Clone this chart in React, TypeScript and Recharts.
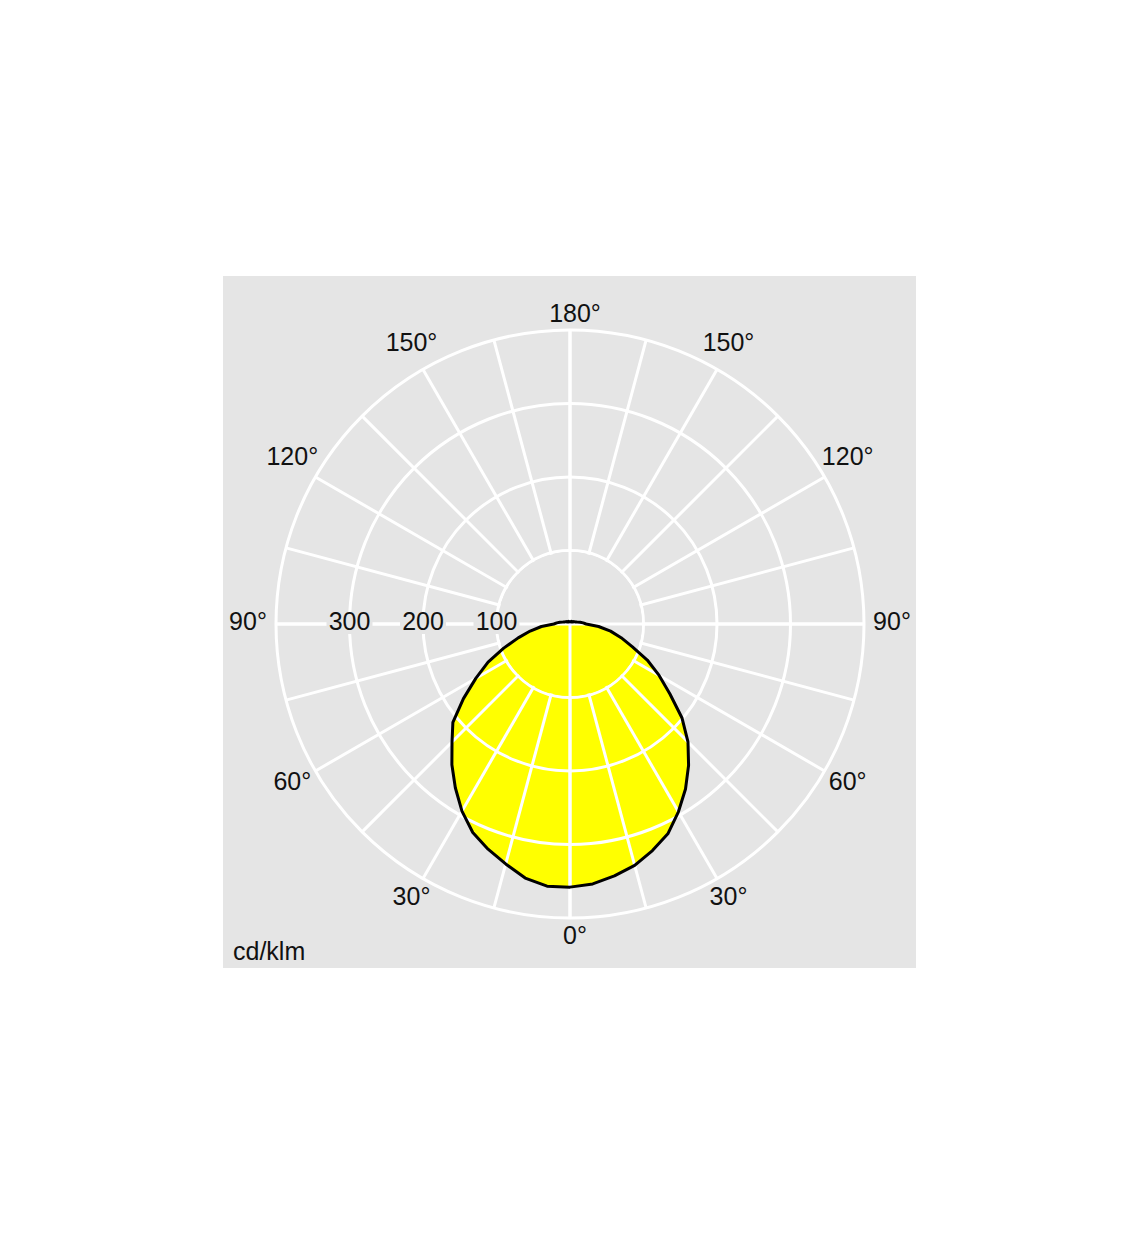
import React from 'react';
import { RadarChart, Radar, PolarGrid, PolarAngleAxis, PolarRadiusAxis } from 'recharts';

// gamma angles of the measured half-planes, 0° = straight down
const gammaDeg = [
  0, 5, 10, 15, 20, 25, 30, 35, 40, 45, 50, 55, 60, 65, 70, 75, 80, 85, 90,
  95, 100, 105, 110, 115, 120, 125, 130, 135, 140, 145, 150, 155, 160, 165, 170, 175, 180,
];

// cd/klm, right side of the diagram
const rightPlane = [
  358, 355, 348, 340, 328, 315, 295, 274, 251, 227, 199, 166, 140, 116, 90, 72, 56, 39, 22,
  18, 14, 10, 8, 7, 6, 5, 5, 4, 4, 4, 4, 4, 3, 3, 3, 3, 3,
];

// cd/klm, left side of the diagram
const leftPlane = [
  358, 358, 351, 338, 326, 313, 294, 272, 250, 227, 208, 177, 148, 123, 96, 73, 55, 39, 22,
  18, 14, 10, 8, 7, 6, 5, 5, 4, 4, 4, 4, 4, 3, 3, 3, 3, 3,
];

const gridAngles = [0, 15, 30, 45, 60, 75, 90, 105, 120, 135, 150, 165, 180, 195, 210, 225, 240, 255, 270, 285, 300, 315, 330, 345];
const axisAngles = [0, 90, 180, 270];
const radiusTicks = [0, 100, 200, 300, 400];

const BG = '#e5e5e5';
const FONT = '"Liberation Sans", Arial, sans-serif';
const W = 693;
const H = 692;
const CX = 347;
const CY = 348;
const OUTER_R = 294;
const HOLE_R = (OUTER_R * radiusTicks[1]) / radiusTicks[radiusTicks.length - 1];

// a runs counter-clockwise from the bottom: 0..180 right side, 180..360 left side
const data = [
  ...gammaDeg.map((g, i) => ({ a: g, v: rightPlane[i] })),
  ...gammaDeg
    .slice(1, -1)
    .reverse()
    .map((g) => ({ a: 360 - g, v: leftPlane[gammaDeg.indexOf(g)] })),
];

const AngleTick = (props: any) => {
  const { x, y, payload } = props;
  const val = payload.value;
  if (val % 30 !== 0) return null;
  const num = String(val <= 180 ? val : 360 - val);
  const rad = (-payload.coordinate * Math.PI) / 180;
  const ux = Math.cos(rad);
  const uy = Math.sin(rad);
  const side = Math.abs(ux) > 0.01;
  const shift = (side ? 9 : 8) + Math.abs(ux) * 10;
  // the number is centred, the degree sign hangs off to the right
  const halfNum = (num.length * 0.556 * 25) / 2;
  const tx = x + ux * shift - halfNum + (side ? -5 : 0);
  const lift = side ? 3 + 10 * Math.max(0, -uy) * Math.abs(ux) : 0;
  const ty = y + uy * shift - lift;
  return (
    <text
      x={tx}
      y={ty}
      textAnchor="start"
      dominantBaseline="central"
      fill="#111"
      fontSize={25}
      fontFamily={FONT}
    >
      {num}°
    </text>
  );
};

const RadiusTick = (props: any) => {
  const { x, y, payload } = props;
  const val = payload.value;
  if (val <= 0 || val >= 400) return null;
  return (
    <g>
      <rect x={x - 23} y={y - 12} width={46} height={22} fill={BG} />
      <text
        x={x}
        y={y - 3}
        textAnchor="middle"
        dominantBaseline="central"
        fill="#111"
        fontSize={25}
        fontFamily={FONT}
      >
        {val}
      </text>
    </g>
  );
};

export default function App() {
  return (
    <div
      style={{
        position: 'relative',
        width: W,
        height: H,
        marginLeft: 215,
        marginTop: 268,
        background: BG,
      }}
    >
      {/* keeps the 15° spokes out of the centre disc */}
      <svg width={0} height={0} style={{ position: 'absolute' }}>
        <defs>
          <mask id="hollow" maskUnits="userSpaceOnUse" x={0} y={0} width={W} height={H}>
            <rect x={0} y={0} width={W} height={H} fill="white" />
            <circle cx={CX} cy={CY} r={HOLE_R - 1.5} fill="black" />
          </mask>
        </defs>
      </svg>
      <RadarChart
        width={W}
        height={H}
        data={data}
        cx={CX}
        cy={CY}
        outerRadius={OUTER_R}
        startAngle={-90}
        endAngle={270}
        margin={{ top: 0, right: 0, bottom: 0, left: 0 }}
      >
        <PolarAngleAxis
          dataKey="a"
          type="number"
          domain={[0, 360]}
          ticks={gridAngles}
          tick={<AngleTick />}
          tickLine={false}
          axisLine={false}
          tickSize={9}
        />
        <PolarAngleAxis
          angleAxisId="axes"
          dataKey="a"
          type="number"
          domain={[0, 360]}
          ticks={axisAngles}
          tick={false}
          tickLine={false}
          axisLine={false}
        />
        <Radar
          dataKey="v"
          fill="#ffff00"
          fillOpacity={1}
          stroke="none"
          dot={false}
          zIndex={-300}
          isAnimationActive={false}
        />
        <PolarGrid
          gridType="circle"
          stroke="#ffffff"
          strokeWidth={3}
          mask="url(#hollow)"
          zIndex={-100}
        />
        <PolarGrid
          angleAxisId="axes"
          gridType="circle"
          polarRadius={[]}
          stroke="#ffffff"
          strokeWidth={3}
          zIndex={-100}
        />
        <Radar
          dataKey="v"
          fill="none"
          fillOpacity={0}
          stroke="#000000"
          strokeWidth={3}
          strokeLinejoin="round"
          dot={false}
          zIndex={100}
          isAnimationActive={false}
        />
        <PolarRadiusAxis
          angle={180}
          type="number"
          domain={[0, 400]}
          ticks={radiusTicks}
          tick={<RadiusTick />}
          tickLine={false}
          axisLine={false}
        />
      </RadarChart>
      <div
        style={{
          position: 'absolute',
          left: 10,
          top: 661,
          fontFamily: FONT,
          fontSize: 25,
          color: '#111',
          lineHeight: '28px',
        }}
      >
        cd/klm
      </div>
    </div>
  );
}
